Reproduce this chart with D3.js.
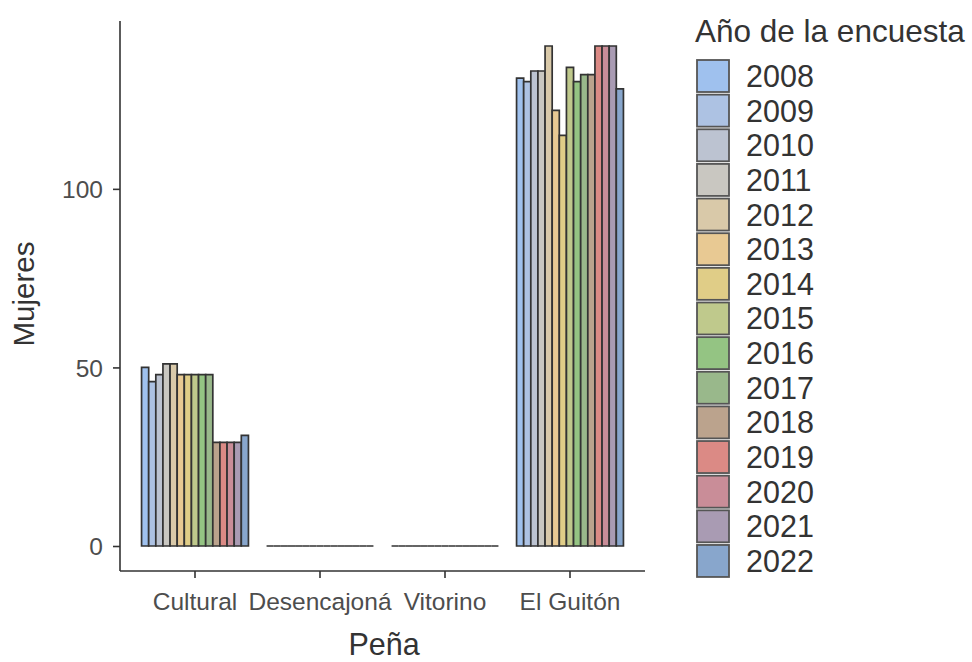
<!DOCTYPE html>
<html>
<head>
<meta charset="utf-8">
<script src="https://cdn.jsdelivr.net/npm/d3@7"></script>
<style>
body { margin: 0; background: #fff; }
text { font-family: "Liberation Sans", Arial, sans-serif; }
</style>
</head>
<body>
<svg id="chart" width="972" height="662"></svg>
<script>
const categories = ["Cultural", "Desencajoná", "Vitorino", "El Guitón"];
const years = ["2008","2009","2010","2011","2012","2013","2014","2015","2016","2017","2018","2019","2020","2021","2022"];
const valCultural    = [50, 46, 48, 51, 51, 48, 48, 48, 48, 48, 29, 29, 29, 29, 31];
const valDesencajona = [0, 0, 0, 0, 0, 0, 0, 0, 0, 0, 0, 0, 0, 0, 0];
const valVitorino    = [0, 0, 0, 0, 0, 0, 0, 0, 0, 0, 0, 0, 0, 0, 0];
const valGuiton      = [131, 130, 133, 133, 140, 122, 115, 134, 130, 132, 132, 140, 140, 140, 128];
const yearColors = ["#9fc1ee","#adc2e3","#bcc3d1","#c9c7c1","#d9c9a9","#e8c993","#e0cd87","#bfc98c","#94c483","#99b88b","#bba38d","#db8a85","#c98d98","#a99bb3","#88a6cc"];
const yTicks = [0, 50, 100];

const seriesByCat = [valCultural, valDesencajona, valVitorino, valGuiton];
const data = [];
categories.forEach((c, i) => years.forEach((yr, j) => data.push({cat: c, year: yr, value: seriesByCat[i][j]})));

const svg = d3.select("#chart");
const pL = 120, pR = 645, pT = 21, pB = 571;

// emulate ggplot discrete expansion (0.6 units each side)
const x = d3.scaleLinear().domain([0.4, categories.length + 0.6]).range([pL, pR]);
const step = x(2) - x(1);
const catCenter = c => x(categories.indexOf(c) + 1);
const groupW = step * 0.855;
const xIn = d3.scaleBand().domain(years).range([0, groupW]);

const y = d3.scaleLinear().domain([-7, 147]).range([pB, pT]);

const stroke = "#333333";

// bars (paths so zero-height bars still show their outline)
svg.append("g").selectAll("path").data(data).join("path")
  .attr("d", d => {
    const x0 = catCenter(d.cat) - groupW / 2 + xIn(d.year);
    const w = xIn.bandwidth();
    const y0 = y(0), y1 = y(d.value);
    return `M${x0},${y0}V${y1}H${x0 + w}V${y0}Z`;
  })
  .attr("fill", d => yearColors[years.indexOf(d.year)])
  .attr("stroke", stroke)
  .attr("stroke-width", 1.7);

// y axis
const yAxis = svg.append("g").attr("transform", `translate(${pL},0)`)
  .call(d3.axisLeft(y).tickValues(yTicks).tickSize(7).tickPadding(10));
yAxis.select(".domain").attr("d", `M0,${pT}V${pB}`).attr("stroke", "#333").attr("stroke-width", 1.6);
yAxis.selectAll(".tick line").attr("stroke", "#333").attr("stroke-width", 1.6);
yAxis.selectAll(".tick text").attr("font-size", 24.5).attr("fill", "#4d4d4d").attr("dy", "0.36em");

// x axis
const xAxisG = svg.append("g").attr("transform", `translate(0,${pB})`);
xAxisG.append("path").attr("d", `M${pL},0H${pR}`).attr("stroke", "#333").attr("stroke-width", 1.6);
const xt = xAxisG.selectAll("g.tick").data(categories).join("g").attr("class", "tick")
  .attr("transform", d => `translate(${catCenter(d)},0)`);
xt.append("line").attr("y2", 7).attr("stroke", "#333").attr("stroke-width", 1.6);
xt.append("text").attr("y", 39).attr("text-anchor", "middle").attr("font-size", 24.5).attr("fill", "#4d4d4d").text(d => d);

// axis titles
svg.append("text").attr("x", 384).attr("y", 655).attr("text-anchor", "middle")
  .attr("font-size", 30.5).attr("fill", "#333").text("Peña");
svg.append("text").attr("transform", `translate(34,294) rotate(-90)`).attr("text-anchor", "middle")
  .attr("font-size", 29.5).attr("fill", "#333").text("Mujeres");

// legend
const lg = svg.append("g");
lg.append("text").attr("x", 695).attr("y", 42).attr("font-size", 31.5).attr("fill", "#333").text("Año de la encuesta");
const ly = d3.scaleBand().domain(years).range([59, 59 + 34.64 * years.length]);
const items = lg.selectAll("g.item").data(years).join("g").attr("class", "item")
  .attr("transform", d => `translate(696,${ly(d)})`);
items.append("rect").attr("x", 1).attr("y", 1).attr("width", 32).attr("height", 32)
  .attr("fill", (d, i) => yearColors[i]).attr("stroke", "#555").attr("stroke-width", 1.8);
items.append("text").attr("x", 50).attr("y", 28).attr("font-size", 30.5).attr("fill", "#333").text(d => d);
</script>
</body>
</html>
